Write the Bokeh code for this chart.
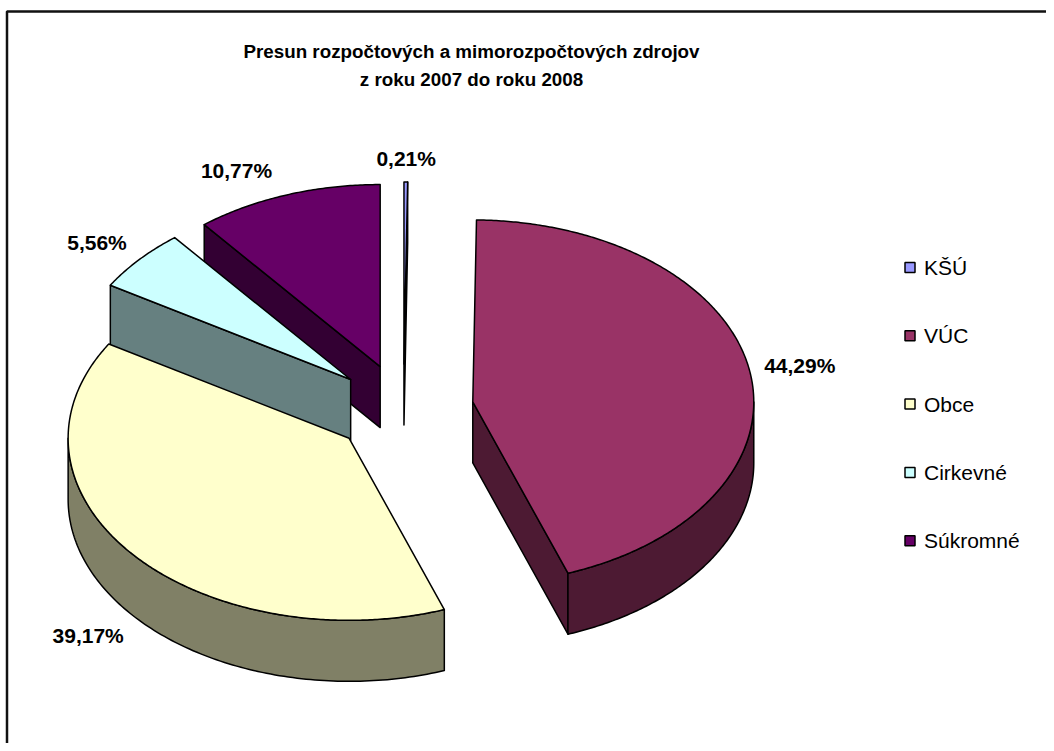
import numpy as np
from bokeh.plotting import figure
from bokeh.models import Range1d
from bokeh.core.properties import value
from bokeh.embed import file_html
from bokeh.resources import INLINE

# ---------------- data ----------------
categories = ["KŠÚ", "VÚC", "Obce", "Cirkevné", "Súkromné"]
shares = [0.21, 44.29, 39.17, 5.56, 10.77]
labels = ["0,21%", "44,29%", "39,17%", "5,56%", "10,77%"]
title_lines = ["Presun rozpočtových a mimorozpočtových zdrojov", "z roku 2007 do roku 2008"]

# ---------------- style ----------------
top_colors = ["#9999FF", "#993366", "#FFFFCC", "#CCFFFF", "#660066"]
side_colors = ["#4D4D80", "#4D1A33", "#808066", "#668080", "#330033"]

W, H = 1046, 743
CX, CY = 403, 409          # pie centre (pixels)
RX, RY = 281, 182          # ellipse radii
DEPTH = 61                 # thickness of the 3D pie
EXPLODE = 0.25             # explosion fraction
LX = [1.2, 1.18, 1.2, 1.2, 1.54]     # label radial factors (x)
LY = [1.13, 1.22, 1.18, 1.14, 1.14]  # label radial factors (y)
FONT = value("Liberation Sans")

p = figure(width=W, height=H, x_range=Range1d(0, W), y_range=Range1d(H, 0),
           output_backend="svg", toolbar_location=None, x_axis_type=None, y_axis_type=None,
           min_border=0, min_border_left=0, min_border_right=0, min_border_top=0,
           min_border_bottom=0, outline_line_color=None, background_fill_color="white",
           border_fill_color="white")
p.grid.visible = False

# chart border (runs off the right/bottom of the window)
p.line(x=[6.5, 6.5, 1200], y=[900, 11, 11], line_color="#111111", line_width=2.5)

# ---------------- pie geometry ----------------
total = float(sum(shares))
bounds = np.concatenate([[0.0], np.cumsum(shares)]) / total * 360.0


def pt(theta, cx, cy, z=0.0):
    t = np.radians(theta)
    return cx + RX * np.sin(t), cy - RY * np.cos(t) + z


slices = []
for i, v in enumerate(shares):
    a, b = bounds[i], bounds[i + 1]
    m = np.radians((a + b) / 2)
    cx = CX + EXPLODE * RX * np.sin(m)
    cy = CY - EXPLODE * RY * np.cos(m)
    slices.append((cy, i, a, b, cx))

xs, ys, fills = [], [], []
for cy, i, a, b, cx in sorted(slices):
    # start radial face
    if np.sin(np.radians(a)) < -1e-9:
        px, py = pt(a, cx, cy)
        xs.append([cx, px, px, cx]); ys.append([cy, py, py + DEPTH, cy + DEPTH])
        fills.append(side_colors[i])
    # end radial face
    if np.sin(np.radians(b)) > 1e-9:
        px, py = pt(b, cx, cy)
        xs.append([cx, px, px, cx]); ys.append([cy, py, py + DEPTH, cy + DEPTH])
        fills.append(side_colors[i])
    # outer wall (front part only)
    lo, hi = max(a, 90.0), min(b, 270.0)
    if hi > lo:
        th = np.linspace(lo, hi, 120)
        tx, ty = pt(th, cx, cy)
        bx, by = pt(th[::-1], cx, cy, DEPTH)
        xs.append(list(tx) + list(bx)); ys.append(list(ty) + list(by))
        fills.append(side_colors[i])
    # top face
    th = np.linspace(a, b, max(4, int((b - a) * 2)))
    tx, ty = pt(th, cx, cy)
    xs.append([cx] + list(tx)); ys.append([cy] + list(ty))
    fills.append(top_colors[i])

p.patches(xs=xs, ys=ys, fill_color=fills, line_color="black", line_width=1.5,
          line_join="round")

# ---------------- data labels ----------------
lx, ly = [], []
for cy, i, a, b, cx in slices:
    m = np.radians((a + b) / 2)
    x = cx + LX[i] * RX * np.sin(m)
    y = cy - LY[i] * RY * np.cos(m) + (DEPTH if np.cos(m) < 0 else 0)
    lx.append(x); ly.append(y)
order = [s[1] for s in slices]
p.text(x=lx, y=ly, text=[labels[i] for i in order], text_font=FONT, text_font_size="21px",
       text_font_style="bold", text_align="center", text_baseline="middle", text_color="black")

# ---------------- title ----------------
p.text(x=[471, 471], y=[51, 78.5], text=title_lines, text_font=FONT, text_font_size="18.8px",
       text_font_style="bold", text_align="center", text_baseline="middle", text_color="black")

# ---------------- legend ----------------
LEG_X, LEG_Y0, LEG_DY = 909.5, 267, 68.3
leg_y = [LEG_Y0 + k * LEG_DY for k in range(len(categories))]
p.rect(x=[LEG_X] * len(categories), y=leg_y, width=10, height=10, fill_color=top_colors,
       line_color="black", line_width=1.5)
p.text(x=[LEG_X + 14] * len(categories), y=leg_y, text=categories, text_font=FONT,
       text_font_size="21px", text_align="left", text_baseline="middle", text_color="black")

open("out.html", "w").write(file_html(p, INLINE))
